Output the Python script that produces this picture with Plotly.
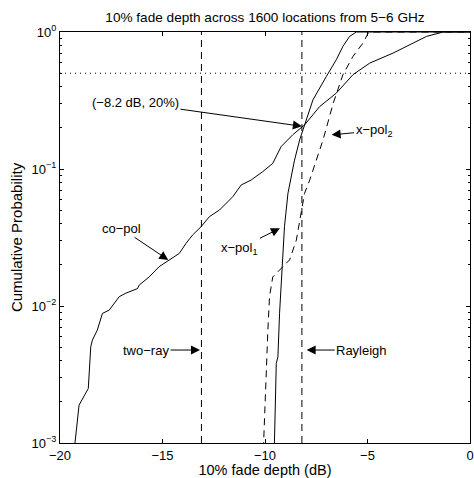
import plotly.graph_objects as go
import numpy as np

# ---------------- data ----------------
copol_x = [-19.35, -19.27, -19.07, -18.62, -18.50, -18.42, -18.18, -17.93, -17.60, -17.11, -16.79,
           -16.22, -16.14, -15.81, -15.65, -15.16, -14.67, -14.18, -13.85, -13.53, -13.12,
           -12.71, -12.22, -11.57, -11.16, -10.68, -10.11, -9.62, -9.21, -8.64, -8.07,
           -7.33, -6.52, -5.71, -4.89, -3.75, -2.77, -2.12, -1.31, 0.0]
copol_y = [0.0009, 0.001, 0.00189, 0.0025, 0.00504, 0.00563, 0.00667, 0.00883, 0.00933, 0.0117, 0.0124,
           0.0134, 0.0142, 0.0155, 0.0163, 0.0194, 0.0217, 0.0242, 0.0287, 0.033, 0.0379,
           0.0449, 0.0502, 0.0628, 0.0765, 0.083, 0.0957, 0.110, 0.146, 0.178, 0.21,
           0.286, 0.358, 0.488, 0.593, 0.702, 0.831, 0.929, 1.0, 1.0]

xpol1_x = [-9.56, -9.54, -9.45, -9.37, -9.29, -9.20, -9.15, -9.05, -8.88, -8.72, -8.56, -8.31,
           -8.07, -7.66, -7.01, -6.52, -6.20, -5.87, -5.54, 0.0]
xpol1_y = [0.0009, 0.001, 0.0038, 0.00425, 0.00883, 0.0155, 0.0194, 0.0379, 0.0665, 0.088, 0.116, 0.163,
           0.21, 0.32, 0.473, 0.628, 0.785, 0.93, 1.0, 1.0]

xpol2_x = [-10.08, -10.07, -10.02, -9.86, -9.78, -9.62, -9.29, -8.80, -8.47, -8.23, -8.07, -7.82,
           -7.50, -7.17, -6.85, -6.68, -6.20, -5.71, -5.22, -4.97, -4.80, 0.0]
xpol2_y = [0.0009, 0.001, 0.00164, 0.00667, 0.0117, 0.0163, 0.0183, 0.0217, 0.0303, 0.0475, 0.0665, 0.083,
           0.116, 0.163, 0.242, 0.30, 0.487, 0.663, 0.831, 0.98, 1.0, 1.0]

tworay_db = -13.1
rayleigh_db = -8.2
median_level = 0.5

x_ticks = [-20, -15, -10, -5, 0]
x_ticktext = ["\u221220", "\u221215", "\u221210", "\u22125", "0"]
y_ticks = [1e-3, 1e-2, 1e-1, 1e0]
y_ticktext = ["10<sup>\u22123</sup>", "10<sup>\u22122</sup>", "10<sup>\u22121</sup>", "10<sup>0</sup>"]

# annotations: (text, head_x, head_y, text_x, text_y)
ann_text = ["(\u22128.2 dB, 20%)", "co\u2212pol", "x\u2212pol<sub>1</sub>", "x\u2212pol<sub>2</sub>",
            "two\u2212ray", "Rayleigh"]
ann_head_x = [-8.2, -14.72, -9.27, -6.75, -13.17, -7.97]
ann_head_y = [0.205, 0.0217, 0.0369, 0.1775, 0.00477, 0.00477]
ann_text_x = [-16.32, -17.02, -11.22, -4.68, -15.80, -5.28]
ann_text_y = [0.304, 0.0369, 0.0265, 0.19, 0.00477, 0.00477]

FONT = "Liberation Sans, Arial, Helvetica, sans-serif"

fig = go.Figure()
fig.add_trace(go.Scatter(x=copol_x, y=copol_y, mode="lines",
                         line=dict(color="black", width=1), showlegend=False))
fig.add_trace(go.Scatter(x=xpol1_x, y=xpol1_y, mode="lines",
                         line=dict(color="black", width=1), showlegend=False))
fig.add_trace(go.Scatter(x=xpol2_x, y=xpol2_y, mode="lines",
                         line=dict(color="black", width=1, dash="7px,5px"), showlegend=False))
fig.add_trace(go.Scatter(x=[tworay_db, tworay_db], y=[1e-3, 1], mode="lines",
                         line=dict(color="black", width=1, dash="7px,5px"), showlegend=False))
fig.add_trace(go.Scatter(x=[rayleigh_db, rayleigh_db], y=[1e-3, 1], mode="lines",
                         line=dict(color="black", width=1, dash="7px,5px"), showlegend=False))
fig.add_trace(go.Scatter(x=[-20, 0], y=[median_level, median_level], mode="lines",
                         line=dict(color="black", width=1, dash="1px,4px"), showlegend=False))

for t, hx, hy, tx, ty in zip(ann_text, ann_head_x, ann_head_y, ann_text_x, ann_text_y):
    fig.add_annotation(x=hx, y=np.log10(hy), ax=tx, ay=np.log10(ty), axref="x", ayref="y",
                       xref="x", yref="y", text=t, showarrow=True, arrowhead=2, arrowsize=1.8,
                       arrowwidth=1, arrowcolor="black", standoff=0,
                       font=dict(family=FONT, size=13, color="black"))

minor_vals = [m * 10.0 ** e for e in (-3, -2, -1) for m in range(2, 10)]

fig.update_layout(
    width=474, height=478,
    margin=dict(l=60, r=4, t=32, b=35, autoexpand=False),
    paper_bgcolor="white", plot_bgcolor="white",
    font=dict(family=FONT, size=13, color="black"),
    title=dict(text="10% fade depth across 1600 locations from 5\u22126 GHz",
               x=0.5, xanchor="center", xref="paper",
               y=1 - 17 / 478, yref="container", yanchor="middle",
               font=dict(family=FONT, size=13.6, color="black")),
    xaxis=dict(range=[-20, 0], tickvals=x_ticks, ticktext=x_ticktext, ticks="inside",
               ticklen=4, tickcolor="black", showgrid=False, zeroline=False,
               showline=True, linecolor="black", linewidth=1, mirror="ticks",
               ticklabeloverflow="allow",
               title=dict(text="10% fade depth (dB)", standoff=6,
                          font=dict(family=FONT, size=14.5)),
               tickfont=dict(family=FONT, size=13)),
    yaxis=dict(type="log", range=[-3, 0], tickvals=y_ticks, ticktext=y_ticktext,
               ticks="inside", ticklen=4, tickcolor="black", showgrid=False, zeroline=False,
               showline=True, linecolor="black", linewidth=1, mirror="ticks",
               minor=dict(tickvals=minor_vals, ticks="inside", ticklen=2, tickcolor="black",
                          showgrid=False),
               title=dict(text="Cumulative Probability", standoff=5,
                          font=dict(family=FONT, size=15)),
               tickfont=dict(family=FONT, size=13)),
)

# remove the browser's default 8px page margin so the 474x478 figure fills the window exactly
fig.write_html("out.html", config={"displayModeBar": False},
               post_script="document.body.style.margin='0';document.body.style.overflow='hidden';")
